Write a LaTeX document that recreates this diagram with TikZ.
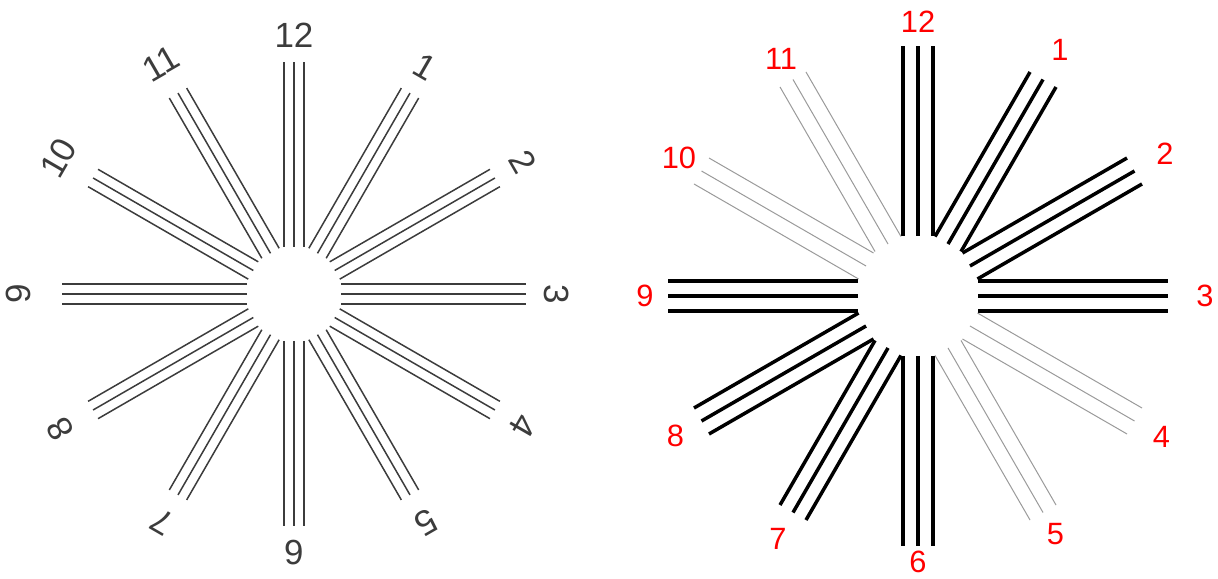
\documentclass[tikz,border=0pt]{standalone}
\usepackage{fontspec}
\setmainfont{Liberation Sans}
\definecolor{dialgray}{HTML}{3C3C3C}
\definecolor{faintgray}{HTML}{9A9A9A}
\definecolor{dialred}{HTML}{FF0000}
\tikzset{
  leftline/.style={draw=dialgray,line width=.75pt},
  boldline/.style={draw=black,line width=1.75pt},
  faintline/.style={draw=faintgray,line width=.5pt},
  leftnum/.style={text=dialgray,inner sep=0pt,font=\fontsize{17.5}{17.5}\selectfont},
  rightnum/.style={text=dialred,inner sep=0pt,font=\fontsize{15.4}{15.4}\selectfont}
}
\begin{document}
\begin{tikzpicture}[x=.5pt,y=.5pt]
\useasboundingbox (0,0) rectangle (1218,578);
\coordinate (lc) at (294,284);
\coordinate (rc) at (918,282);
\foreach \h in {1,...,12}
  \draw[leftline,shift={(lc)},rotate=90-30*\h] (47,-10)--(232,-10) (47,0)--(232,0) (47,10)--(232,10);
\foreach \h/\r in {1/262,2/264,3/263,4/264,5/264,6/259,7/263,8/270,9/276,10/272,11/266,12/259}
  \node[leftnum,rotate=-30*\h] (l\h) at ([shift={(90-30*\h:\r)}]lc) {\h};
\foreach \h in {12,1,2,3,6,7,8,9}
  \draw[boldline,shift={(rc)},rotate=90-30*\h] (60,-15)--(250,-15) (60,0)--(250,0) (60,15)--(250,15);
\foreach \h in {4,5,10,11}
  \draw[faintline,shift={(rc)},rotate=90-30*\h] (60,-15)--(250,-15) (60,0)--(250,0) (60,15)--(250,15);
\foreach \h/\r in {1/284,2/285,3/287,4/281,5/275,6/266,7/280,8/280,9/273,10/276,11/274,12/274}
  \node[rightnum] (r\h) at ([shift={(90-30*\h:\r)}]rc) {\h};
\end{tikzpicture}
\end{document}
